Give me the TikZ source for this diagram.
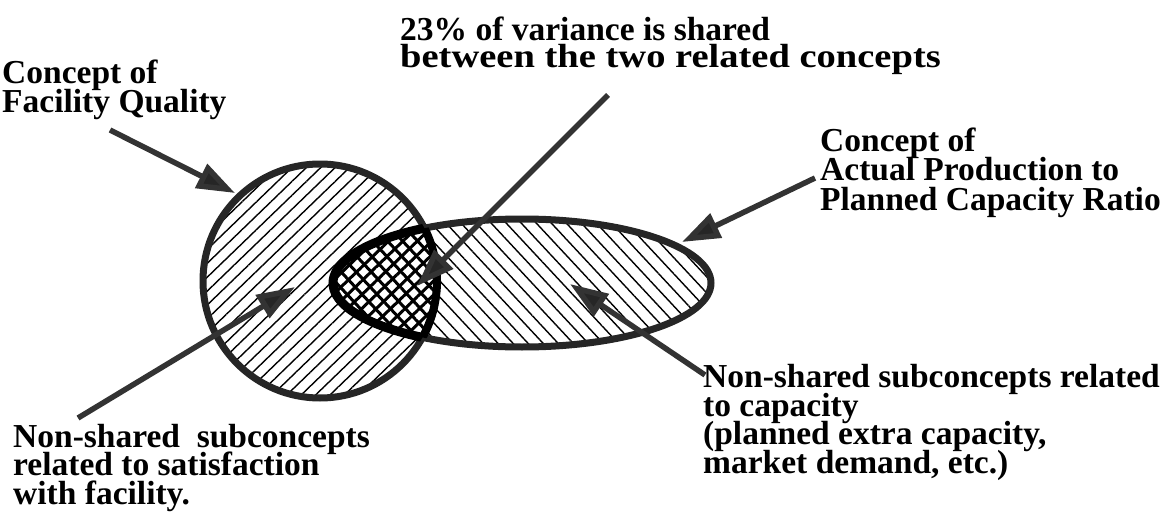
\documentclass[tikz,border=0pt]{standalone}
\usepackage{fontspec}
\setmainfont{Liberation Serif}
\usetikzlibrary{arrows.meta,patterns.meta}
\newcommand\lblfont[1]{\fontsize{33.5}{#1}\selectfont\bfseries\lineskiplimit=-60pt\relax\lineskip=0pt\relax}
\begin{document}
\begin{tikzpicture}[x=1pt,y=1pt,
  lbl/.style={inner sep=0pt,anchor=base west,align=left,font=\lblfont{#1}},
  lbl/.default=28.5,
  outline/.style={draw=black!85,line width=7pt},
  inner outline/.style={draw=black,line width=9pt},
  pointer/.style={draw=black!80,line width=5.5pt,
    -{Triangle[length=38pt,width=26pt,fill=black!85]}},
  thinA/.style={pattern={Lines[angle=44,distance=10pt,line width=1.4pt]}},
  thinB/.style={pattern={Lines[angle=-47,distance=11pt,line width=1.4pt]}},
  thickA/.style={pattern={Lines[angle=44,distance=10pt,line width=3pt]}},
  thickB/.style={pattern={Lines[angle=-47,distance=11pt,line width=3pt]}}]
\useasboundingbox (0,0) rectangle (1163,-519);
\coordinate (cc) at (320,-281);
\coordinate (ec) at (522,-283);
% hatching
\fill[thinA] (cc) circle[radius=117pt];
\fill[thinB] (ec) ellipse[x radius=189pt,y radius=64pt];
\begin{scope}
  \clip (cc) circle[radius=117pt];
  \fill[thickA] (ec) ellipse[x radius=189pt,y radius=64pt];
  \fill[thickB] (ec) ellipse[x radius=189pt,y radius=64pt];
\end{scope}
% outlines
\draw[outline] (cc) circle[radius=117pt];
\draw[outline] (ec) ellipse[x radius=189pt,y radius=64pt];
\begin{scope}
  \clip (cc) circle[radius=117pt];
  \draw[inner outline] (ec) ellipse[x radius=189pt,y radius=64pt];
\end{scope}
\begin{scope}
  \clip (ec) ellipse[x radius=189pt,y radius=64pt];
  \draw[inner outline,line width=8pt] (cc) circle[radius=117pt];
\end{scope}
% labels (anchored at the baseline of their last line)
\node[lbl=29.5] (q) at (2,-113) {Concept of\\Facility Quality};
\node[lbl=28] (v) at (400,-68) {23\% of variance is shared\\\scalebox{1.15}[1]{between the two related concepts}};
\node[lbl=29.5] (r) at (820,-210) {Concept of\\Actual Production to\\Planned Capacity Ratio};
\node[lbl] (s) at (13,-504) {Non-shared\ \ subconcepts\\related to satisfaction\\with facility.};
\node[lbl] (c) at (703,-473) {Non-shared subconcepts related\\to capacity\\(planned extra capacity,\\market demand, etc.)};
% arrow ends
\coordinate (q0) at (110,-130);  \coordinate (q1) at (235,-193);
\coordinate (v0) at (608,-95);   \coordinate (v1) at (417,-286);
\coordinate (r0) at (815,-178);  \coordinate (r1) at (682,-242);
\coordinate (s0) at (78,-418);   \coordinate (s1) at (295,-287);
\coordinate (c0) at (705,-375);  \coordinate (c1) at (570,-284);
\draw[pointer] (q0) -- (q1);
\draw[pointer] (v0) -- (v1);
\draw[pointer] (r0) -- (r1);
\draw[pointer] (s0) -- (s1);
\draw[pointer] (c0) -- (c1);
\end{tikzpicture}
\end{document}
